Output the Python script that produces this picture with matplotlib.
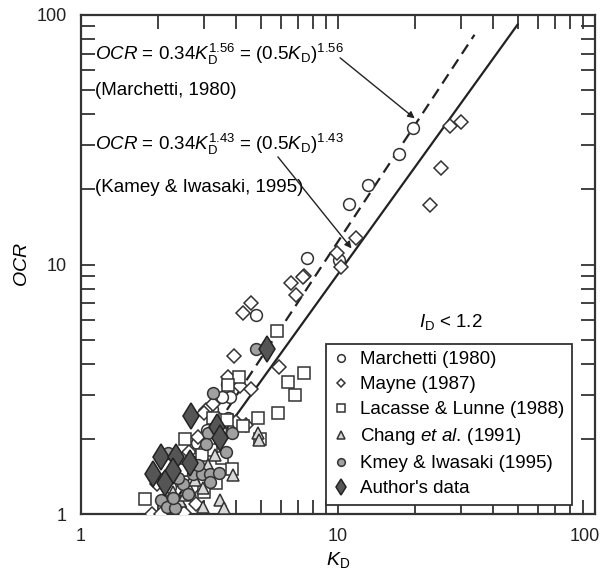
import numpy as np
import matplotlib
matplotlib.use('Agg')
import matplotlib.pyplot as plt
from matplotlib.transforms import ScaledTranslation

plt.rcParams['font.family'] = ['Liberation Sans', 'DejaVu Sans']
plt.rcParams['mathtext.fontset'] = 'custom'
plt.rcParams['mathtext.rm'] = 'Liberation Sans'
plt.rcParams['mathtext.it'] = 'Liberation Sans:italic'
plt.rcParams['mathtext.bf'] = 'Liberation Sans:bold'

# Marchetti (1980)
kd_marchetti = [19.6, 17.3, 13.1, 11.0, 7.57, 10.1, 4.80, 3.70, 3.80, 3.54, 3.23, 3.38,
                3.73, 3.47, 3.09, 2.83, 3.04, 2.73, 2.49, 2.36, 2.22, 2.73, 2.58, 2.22, 2.43]
ocr_marchetti = [35.2, 27.7, 20.8, 17.5, 10.6, 10.4, 6.28, 3.32, 2.94, 2.94, 2.64, 2.43,
                 2.43, 2.17, 2.17, 1.93, 1.84, 1.62, 1.50, 1.37, 1.28, 1.33, 1.25, 1.14, 1.06]

# Mayne (1987)
kd_mayne = [27.3, 30.1, 25.2, 22.8, 11.75, 9.9, 10.3, 7.37, 7.31, 4.27, 4.59, 3.94, 5.89,
            6.86, 6.56, 3.73, 4.15, 4.59, 3.06, 2.85, 2.63, 1.89, 2.05, 2.52, 2.80, 1.98,
            3.26, 3.0, 4.0, 4.4, 2.95, 2.12, 2.75]
ocr_mayne = [35.9, 37.3, 24.4, 17.3, 12.8, 11.1, 9.77, 9.0, 8.9, 6.39, 7.01, 4.30, 3.88,
             7.55, 8.43, 3.54, 3.26, 3.17, 2.61, 2.03, 1.77, 1.0, 1.0, 1.01, 1.10, 1.32,
             2.75, 2.55, 2.33, 2.28, 1.78, 1.4, 1.28]

# Lacasse & Lunne (1988)
kd_lacasse = [5.79, 6.39, 7.37, 6.80, 5.84, 4.88, 4.27, 4.12, 3.73, 3.26, 2.54, 1.77, 4.97,
              3.54, 3.87, 3.35, 3.02, 2.48, 3.2, 3.7, 2.95]
ocr_lacasse = [5.41, 3.38, 3.67, 3.0, 2.54, 2.43, 2.25, 3.54, 3.29, 2.43, 2.0, 1.15, 2.0,
               1.68, 1.51, 1.33, 1.22, 1.5, 1.8, 2.38, 1.72]

# Chang et al. (1991)
kd_chang = [4.88, 4.95, 3.90, 3.47, 3.60, 2.98, 2.98, 3.32, 2.43, 2.66, 2.77, 3.12, 2.54, 2.28]
ocr_chang = [2.11, 1.98, 1.43, 1.14, 1.06, 1.07, 1.27, 1.72, 1.13, 1.25, 1.37, 1.57, 1.19, 1.22]

# Kamey & Iwasaki (1995)
kd_kamey = [4.80, 3.26, 3.12, 3.06, 3.87, 3.67, 2.18, 2.49, 2.73, 2.96, 3.18, 3.44, 3.18,
            2.05, 2.16, 2.32, 2.28, 2.85, 2.38, 2.62]
ocr_kamey = [4.59, 3.06, 2.11, 1.91, 2.11, 1.77, 1.76, 1.32, 1.45, 1.45, 1.45, 1.46, 1.34,
             1.14, 1.07, 1.06, 1.16, 1.57, 1.39, 1.2]

# Author's data
kd_author = [5.29, 2.68, 3.38, 3.47, 2.05, 2.34, 2.66, 2.28, 1.91, 2.12]
ocr_author = [4.59, 2.47, 2.23, 2.02, 1.69, 1.69, 1.60, 1.49, 1.45, 1.33]

# correlation lines
kd_line_156 = np.array([2.0, 34.0])
kd_line_143 = np.array([2.13, 50.0])

fig = plt.figure(figsize=(6.07, 5.75), dpi=100)
ax = fig.add_axes([0.1334, 0.106, 0.8466, 0.868])

edge = '#333333'
ax.plot(kd_line_156, 0.34 * kd_line_156 ** 1.56, color='#222222', lw=1.6, ls=(0, (5, 3)), zorder=3)
ax.plot(kd_line_143, 0.34 * kd_line_143 ** 1.43, color='#222222', lw=1.6, zorder=3)

ax.plot(kd_marchetti, ocr_marchetti, 'o', ms=8.5, mfc='white', mec=edge, mew=1.1,
        label='Marchetti (1980)', zorder=4)
ax.plot(kd_mayne, ocr_mayne, 'D', ms=7, mfc='white', mec=edge, mew=1.1,
        label='Mayne (1987)', zorder=4)
ax.plot(kd_lacasse, ocr_lacasse, 's', ms=8, mfc='white', mec=edge, mew=1.1,
        label='Lacasse & Lunne (1988)', zorder=4)
ax.plot(kd_chang, ocr_chang, '^', ms=8.5, mfc='#d8d8d8', mec=edge, mew=1.1,
        label='Chang $\\it{et\\ al.}\\,$(1991)', zorder=4)
ax.plot(kd_kamey, ocr_kamey, 'o', ms=8.5, mfc='#a0a0a0', mec=edge, mew=1.1,
        label='Kmey & Iwasaki (1995)', zorder=5)
ax.plot(kd_author, ocr_author, 'd', ms=13, mfc='#555555', mec='#222222', mew=1.1,
        label="Author's data", zorder=6)

ax.set_xscale('log')
ax.set_yscale('log')
ax.set_xlim(1, 100)
ax.set_ylim(1, 100)
ax.set_xticks([1, 10, 100])
ax.set_xticklabels(['1', '10', '100'])
ax.set_yticks([1, 10, 100])
ax.set_yticklabels(['1', '10', '100'])
ax.tick_params(which='both', direction='in', top=True, right=True, colors=edge,
               labelcolor='#222222', labelsize=13)
ax.tick_params(which='major', length=10, width=1.3, pad=10)
ax.tick_params(which='minor', length=10, width=1.3)
for s in ax.spines.values():
    s.set_linewidth(1.6)
    s.set_color(edge)

# keep the last x tick label inside the figure
last = ax.get_xticklabels()[-1]
last.set_transform(last.get_transform() + ScaledTranslation(-7 / 72, 0, fig.dpi_scale_trans))

ax.set_xlabel('$\\it{K}_\\mathrm{D}$', fontsize=14, labelpad=4)
ax.set_ylabel('$\\it{OCR}$', fontsize=14, labelpad=4)

ax.text(0.027, 0.92, '$\\it{OCR}$ = 0.34$\\it{K}_\\mathrm{D}^{1.56}$ = (0.5$\\it{K}_\\mathrm{D}$)$^{1.56}$',
        transform=ax.transAxes, fontsize=13.5, va='center', ha='left')
ax.text(0.027, 0.848, '(Marchetti, 1980)', transform=ax.transAxes, fontsize=13.5,
        va='center', ha='left')
ax.text(0.027, 0.74, '$\\it{OCR}$ = 0.34$\\it{K}_\\mathrm{D}^{1.43}$ = (0.5$\\it{K}_\\mathrm{D}$)$^{1.43}$',
        transform=ax.transAxes, fontsize=13.5, va='center', ha='left')
ax.text(0.027, 0.654, '(Kamey & Iwasaki, 1995)', transform=ax.transAxes, fontsize=13.5,
        va='center', ha='left')
ax.text(0.72, 0.385, '$\\it{I}_\\mathrm{D}$ < 1.2', transform=ax.transAxes, fontsize=13.5,
        va='center', ha='center')

arrow = dict(arrowstyle='-|>', lw=1.0, color='#222222', mutation_scale=10, shrinkA=0, shrinkB=0)
ax.annotate('', xy=(19.9, 38.5), xytext=(10.2, 67.3), arrowprops=arrow)
ax.annotate('', xy=(11.3, 11.6), xytext=(5.84, 27.0), arrowprops=arrow)

leg = ax.legend(loc='lower left', bbox_to_anchor=(0.459, 0.0), fontsize=13.5,
                markerscale=0.65, handlelength=0.8, handletextpad=0.6, labelspacing=0.42,
                borderpad=0.4, fancybox=False, framealpha=1, edgecolor=edge)
leg.get_frame().set_linewidth(1.3)

fig.savefig('out.png', dpi=100)
